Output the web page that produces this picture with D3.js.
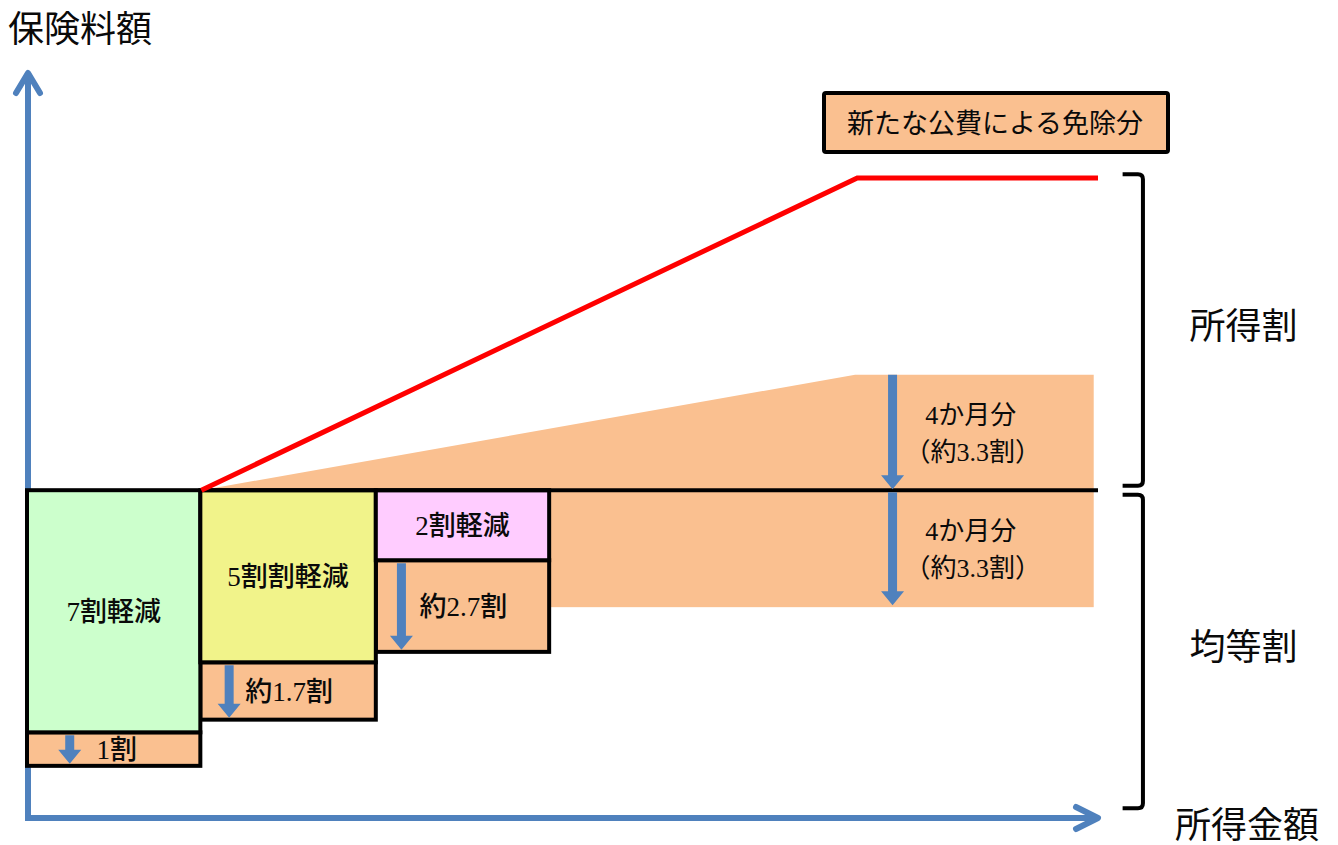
<!DOCTYPE html>
<html>
<head>
<meta charset="utf-8">
<script src="https://cdn.jsdelivr.net/npm/d3@7"></script>
<style>
  html, body { margin: 0; padding: 0; background: #ffffff; }
  svg { display: block; }
  text { font-family: "Liberation Serif", "Noto Sans CJK JP", serif; fill: #0a0a0a; }
</style>
</head>
<body>
<svg id="chart" width="1338" height="845"></svg>
<script>
// ---------- data (abstract units: income on x, premium on y, both 0-100) ----------
const categories = ["7割軽減", "5割割軽減", "2割軽減"];
const tierColors = ["#ccffcc", "#f1f38a", "#ffccff"];
const tierStartX = [0, 16.2, 32.6];          // income where each reduction tier starts
const tierEndX = [16.2, 32.6, 48.8];         // income where each reduction tier ends
const fullFlatLevel = 44.0;                  // full 均等割 premium level
const reducedLevel = [11.5, 20.9, 34.6];     // premium after existing reduction
const exemptBottom = [7.0, 13.2, 22.3];      // premium after new public-fund exemption
const exemptLabels = ["1割", "約1.7割", "約2.7割"];
const exemptArrowX = [3.9, 18.8, 34.9];

const bandStartX = 48.8, bandEndX = 99.6;    // unreduced range
const bandFlatBottom = 28.3;                 // 均等割 after 4 months exemption
const incomeCapX = 77.3;                     // income where 所得割 reaches the cap
const incomeShareTop = 59.5;                 // 所得割 exemption top at cap
const redLineX = [16.2, 77.5, 100];          // total premium (red line)
const redLineY = [44.0, 85.9, 85.9];
const bandArrowX = 80.8;
const bandLabelX = 88.2;
const bandLabels = ["4か月分", "（約3.3割）"];

const braceTop = [86.4, 44.6];  // 所得割 range
const braceBottom = [43.4, 1.3]; // 均等割 range
const braceLabels = ["所得割", "均等割"];
const braceX = 104.2, braceTipX = 102.3, braceLabelX = 113.6;

const yTitle = "保険料額";
const xTitle = "所得金額";
const legendLabel = "新たな公費による免除分";

// ---------- scales ----------
const x = d3.scaleLinear().domain([0, 100]).range([28, 1098]);
const y = d3.scaleLinear().domain([0, 100]).range([818, 73]);

const svg = d3.select("#chart");
const ORANGE = "#fac090", BLUE = "#4f81bd";

// orange exemption areas (unreduced range)
svg.append("path")
  .attr("d", d3.line()([
    [x(tierEndX[0]), y(fullFlatLevel)],
    [x(incomeCapX), y(incomeShareTop)],
    [x(bandEndX), y(incomeShareTop)],
    [x(bandEndX), y(fullFlatLevel)]
  ]) + "Z")
  .attr("fill", ORANGE);
svg.append("rect")
  .attr("x", x(bandStartX)).attr("y", y(fullFlatLevel))
  .attr("width", x(bandEndX) - x(bandStartX))
  .attr("height", y(bandFlatBottom) - y(fullFlatLevel))
  .attr("fill", ORANGE);

// axes
const axisG = svg.append("g").attr("stroke", BLUE).attr("stroke-width", 6)
  .attr("fill", "none").attr("stroke-linecap", "round").attr("stroke-linejoin", "round");
axisG.append("path").attr("d", `M${x(0)},${y(0)} V${y(100) + 2}`).attr("stroke-linecap", "butt");
axisG.append("path").attr("d", `M${x(0) - 12},${y(100) + 20} L${x(0)},${y(100)} L${x(0) + 12},${y(100) + 20}`);
axisG.append("path").attr("d", `M${x(0) - 3},${y(0)} H${x(100) - 2}`).attr("stroke-linecap", "butt");
axisG.append("path").attr("d", `M${x(100) - 22},${y(0) - 11} L${x(100)},${y(0)} L${x(100) - 22},${y(0) + 11}`);

// reduction tier boxes
const tiers = categories.map((c, i) => ({
  label: c, color: tierColors[i], x0: tierStartX[i], x1: tierEndX[i],
  top: fullFlatLevel, mid: reducedLevel[i], bottom: exemptBottom[i],
  exLabel: exemptLabels[i], arrowX: exemptArrowX[i]
}));

const tg = svg.append("g");
tg.selectAll("rect.ex").data(tiers).join("rect").attr("class", "ex")
  .attr("x", d => x(d.x0) - 1).attr("y", d => y(d.mid))
  .attr("width", d => x(d.x1) - x(d.x0)).attr("height", d => y(d.bottom) - y(d.mid))
  .attr("fill", ORANGE).attr("stroke", "#000").attr("stroke-width", 4);
tg.selectAll("rect.tier").data(tiers).join("rect").attr("class", "tier")
  .attr("x", d => x(d.x0) - 1).attr("y", d => y(d.top))
  .attr("width", d => x(d.x1) - x(d.x0)).attr("height", d => y(d.mid) - y(d.top))
  .attr("fill", d => d.color).attr("stroke", "#000").attr("stroke-width", 4);

// black 均等割 line
svg.append("line")
  .attr("x1", x(tierEndX[0])).attr("x2", x(100))
  .attr("y1", y(fullFlatLevel)).attr("y2", y(fullFlatLevel))
  .attr("stroke", "#000").attr("stroke-width", 4);

// red total line
svg.append("path")
  .attr("d", d3.line()(redLineX.map((v, i) => [x(v), y(redLineY[i])])))
  .attr("fill", "none").attr("stroke", "#ff0000").attr("stroke-width", 5);

// arrows
function downArrow(g, cx, y1, y2) {
  const sw = 9, hw = 11.5, hl = 14;
  g.append("path")
    .attr("d", `M${cx - sw / 2},${y1} V${y2 - hl} H${cx - hw} L${cx},${y2} L${cx + hw},${y2 - hl} H${cx + sw / 2} V${y1} Z`)
    .attr("fill", BLUE);
}
const ag = svg.append("g");
tiers.forEach(d => downArrow(ag, x(d.arrowX), y(d.mid) + 3, y(d.bottom) - 2));
downArrow(ag, x(bandArrowX), y(incomeShareTop), y(fullFlatLevel) - 1);
downArrow(ag, x(bandArrowX), y(fullFlatLevel) + 2, y(bandFlatBottom) - 2);

// box labels
tg.selectAll("text.tl").data(tiers).join("text").attr("class", "tl")
  .attr("text-anchor", "middle").attr("font-size", 27).attr("font-weight", 500)
  .attr("dominant-baseline", "central")
  .attr("x", d => (x(d.x0) + x(d.x1)) / 2 - 1)
  .attr("y", d => (y(d.top) + y(d.mid)) / 2 + 1)
  .text(d => d.label);
tg.selectAll("text.el").data(tiers).join("text").attr("class", "el")
  .attr("text-anchor", "middle").attr("font-size", 27).attr("font-weight", 500)
  .attr("dominant-baseline", "central")
  .attr("x", d => (x(d.x0) + x(d.x1)) / 2 + (d.label === categories[0] ? 2 : 0))
  .attr("y", d => (y(d.mid) + y(d.bottom)) / 2 + 1)
  .text(d => d.exLabel);

// band labels
const lg = svg.append("g").attr("text-anchor", "middle").attr("font-size", 26);
const bandCenters = [(y(incomeShareTop) + y(fullFlatLevel)) / 2, (y(fullFlatLevel) + y(bandFlatBottom)) / 2];
bandCenters.forEach(cy => {
  bandLabels.forEach((t, j) => {
    lg.append("text").attr("x", x(bandLabelX) + (j === 0 ? -1 : 1))
      .attr("y", cy + (j === 0 ? -17 : 20)).attr("dominant-baseline", "central").text(t);
  });
});

// braces
const bg = svg.append("g").attr("fill", "none").attr("stroke", "#000").attr("stroke-width", 4);
const bx = x(braceX), btx = x(braceTipX);
[braceTop, braceBottom].forEach(([t, b]) => {
  const yt = y(t), yb = y(b);
  bg.append("path").attr("d",
    `M${btx},${yt} H${bx - 5} Q${bx},${yt} ${bx},${yt + 5} V${yb - 5} Q${bx},${yb} ${bx - 5},${yb} H${btx}`);
});
const brg = svg.append("g").attr("text-anchor", "middle").attr("font-size", 36);
[braceTop, braceBottom].forEach(([t, b], i) => {
  brg.append("text").attr("x", x(braceLabelX)).attr("y", (y(t) + y(b)) / 2 - 3)
    .attr("dominant-baseline", "central").text(braceLabels[i]);
});

// axis titles
svg.append("text").attr("x", 8).attr("y", 30).attr("font-size", 36)
  .attr("dominant-baseline", "central").text(yTitle);
svg.append("text").attr("x", 1247).attr("y", 826).attr("font-size", 36)
  .attr("text-anchor", "middle").attr("dominant-baseline", "central").text(xTitle);

// legend
const lgd = svg.append("g");
lgd.append("rect").attr("x", 824).attr("y", 93).attr("width", 344).attr("height", 59)
  .attr("rx", 2).attr("fill", ORANGE).attr("stroke", "#000").attr("stroke-width", 4);
lgd.append("text").attr("x", 995).attr("y", 124).attr("font-size", 27)
  .attr("text-anchor", "middle").attr("dominant-baseline", "central").text(legendLabel);
</script>
</body>
</html>
